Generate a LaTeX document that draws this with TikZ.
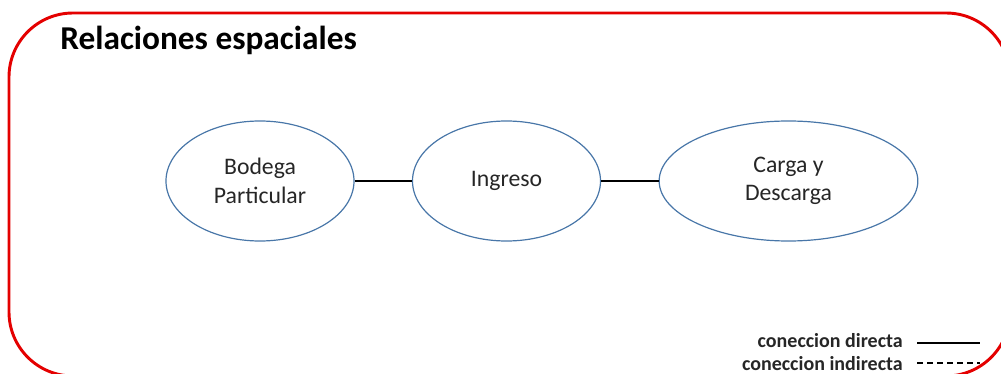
\documentclass[tikz,border=0pt]{standalone}
\usepackage{fontspec}
\setmainfont{Carlito}
\usetikzlibrary{shapes.geometric,positioning}
\definecolor{framered}{RGB}{228,0,0}
\definecolor{ovalblue}{RGB}{72,118,168}
\definecolor{inktext}{RGB}{38,38,38}

\begin{document}
\begin{tikzpicture}[x=0.75pt,y=-0.75pt,
    place/.style={ellipse,draw=ovalblue,line width=0.9pt,minimum width=141pt,minimum height=90pt,
                  inner sep=0pt,align=center,text=inktext,font=\fontsize{17.8}{21.5}\selectfont},
    link/.style={line width=1.8pt},
    legendtext/.style={anchor=base east,inner sep=0pt,text=inktext,font=\bfseries\fontsize{15}{18}\selectfont}]
    \useasboundingbox (0,0) rectangle (1001,374);
    \clip (0,0) rectangle (1001,374);

    % marco
    \draw[framered,line width=2.2pt,rounded corners=48pt] (9,13) rectangle (1010,376);
    \node[anchor=base west,inner sep=0pt,font=\bfseries\fontsize{25}{30}\selectfont] (title) at (60,50) {Relaciones espaciales};

    % zonas
    \node[place] (bodega)  at (260,181)   {Bodega\\Particular};
    \node[place] (ingreso) at (506.5,181) {Ingreso};
    \node[place,minimum width=194pt] (carga) at (788.5,181) {Carga y\\Descarga};

    \draw[link] (bodega) -- (ingreso);
    \draw[link] (ingreso) -- (carga);

    % leyenda
    \node[legendtext] (ldirecta)   at (903,348) {coneccion directa};
    \node[legendtext] (lindirecta) at (903,371) {coneccion indirecta};
    \coordinate (dirend) at (980,343);
    \coordinate (indend) at (980,363);
    \draw[line width=1.8pt] (ldirecta.base east) ++(14,-5) -- (dirend);
    \draw[line width=0.8pt,dash pattern=on 4.5pt off 3pt] (lindirecta.base east) ++(14,-8) -- (indend);
\end{tikzpicture}
\end{document}
